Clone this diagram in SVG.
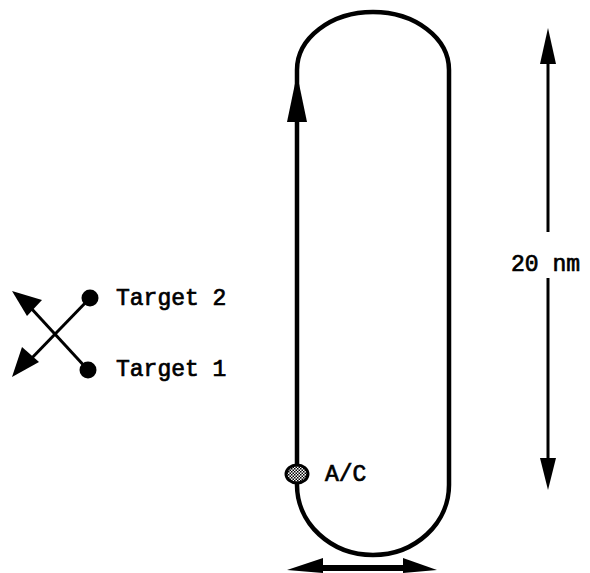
<svg xmlns="http://www.w3.org/2000/svg" width="590" height="573" viewBox="0 0 590 573">
<defs>
<pattern id="hatch" width="3" height="3" patternUnits="userSpaceOnUse">
<rect width="3" height="3" fill="#fff"/>
<rect width="1.5" height="1.5" fill="#000"/>
<rect x="1.5" y="1.5" width="1.5" height="1.5" fill="#000"/>
</pattern>
</defs>
<style>
.ln{fill:none;stroke:#000;stroke-width:4.5;stroke-linecap:round}
.thin{fill:none;stroke:#000;stroke-width:3}
.ah{fill:#000}
.t{font-family:"Liberation Mono","DejaVu Sans Mono",monospace;font-size:23px;fill:#000;stroke:#000;stroke-width:0.7}
</style>
<rect width="590" height="573" fill="#fff"/>
<g id="connectors">
<path class="ln" d="M297,118 L297,70 A76,58 0 0 1 449,70 L449,485 A76,70 0 0 1 297,485 L297,118"/>
<polygon class="ah" points="297,74 307,122 287,122"/>
<line class="thin" x1="548" y1="60" x2="548" y2="232"/>
<polygon class="ah" points="548,28 556,64 540,64"/>
<line class="thin" x1="548" y1="278" x2="548" y2="460"/>
<polygon class="ah" points="548,490 556,458 540,458"/>
<line x1="318" y1="568" x2="408" y2="568" stroke="#000" stroke-width="6"/>
<polygon class="ah" points="287,570 323,558 323,573"/>
<polygon class="ah" points="437,570 403,558 403,573"/>
<line class="thin" x1="88" y1="370" x2="30" y2="307" stroke-width="3.5"/>
<polygon class="ah" points="12,291 42,300 27,316"/>
<line class="thin" x1="90" y1="298" x2="28" y2="362" stroke-width="3.5"/>
<polygon class="ah" points="12,377 22,347 39,362"/>
</g>
<g id="target2"><circle cx="90" cy="298" r="8.5"/><text class="t" x="116" y="305">Target 2</text></g>
<g id="target1"><circle cx="88" cy="370" r="8.5"/><text class="t" x="116" y="376">Target 1</text></g>
<g id="ac"><ellipse cx="297" cy="474" rx="11" ry="9" fill="url(#hatch)" stroke="#000" stroke-width="3"/><text class="t" x="325" y="481">A/C</text></g>
<g id="dim"><text class="t" x="511" y="271">20 nm</text></g>
</svg>
